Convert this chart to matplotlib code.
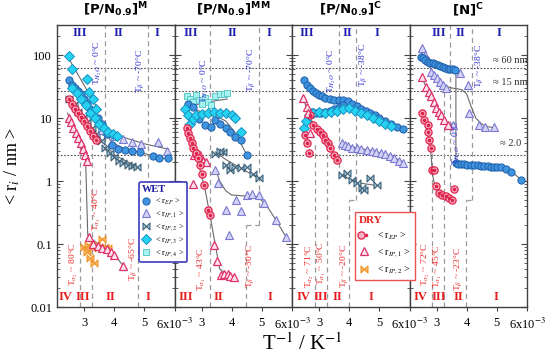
import numpy as np
import matplotlib
matplotlib.use('Agg')
import matplotlib.pyplot as plt
from matplotlib.path import Path
from matplotlib.lines import Line2D
from matplotlib.legend_handler import HandlerTuple

plt.rcParams['font.family'] = ['Liberation Serif', 'DejaVu Serif']
plt.rcParams['mathtext.fontset'] = 'stix'

# ---------------- data (x in 1e-3 K^-1, y in nm) ----------------
panel_titles = [r'[P/N$_{\mathbf{0.9}}$]$^{\mathbf{M}}$', r'[P/N$_{\mathbf{0.9}}$]$^{\mathbf{MM}}$',
                r'[P/N$_{\mathbf{0.9}}$]$^{\mathbf{C}}$', r'[N]$^{\mathbf{C}}$']
x_ticks = [3, 4, 5, 6]
x_ticklabels = ['3', '4', '5', r'6x10$^{-3}$']
y_ticks = [0.01, 0.1, 1, 10, 100]
y_ticklabels = ['0.01', '0.1', '1', '10', '100']
h_levels = [62, 27, 2.6]

# Panel 1: [P/N0.9]M
m_wet_ep_x = [2.5, 2.6, 2.7, 2.8, 2.9, 3.0, 3.1, 3.2, 3.3, 3.45, 3.6, 3.75, 3.92, 4.13, 4.37, 4.59, 4.87, 5.27, 5.47, 5.77]
m_wet_ep_y = [40, 34, 30, 27, 24, 20, 17, 14, 12, 10, 8, 5.5, 3.7, 3.2, 3.1, 3.0, 2.9, 2.5, 2.3, 2.3]
m_wet_ip1_x = [3.6, 3.8, 4.0, 4.3, 4.6, 4.9, 5.45, 5.75]
m_wet_ip1_y = [6.5, 5.8, 5.2, 4.6, 4.2, 3.9, 4.1, 3.0]
m_wet_ip2_x = [2.5, 2.65, 2.8, 2.95, 3.1, 3.25, 3.4, 3.55, 3.7, 3.85, 4.0, 4.15, 4.3, 4.45, 4.6, 4.75]
m_wet_ip2_y = [20, 16, 12.5, 10, 8.5, 7, 5.5, 4.3, 3.4, 2.8, 2.4, 2.1, 1.9, 1.8, 1.75, 1.7]
m_wet_ip3_x = [2.5, 2.6, 3.1, 3.15, 3.3, 3.4, 2.6, 2.75, 2.9, 3.05, 3.2, 3.35, 3.5, 3.65, 3.8, 3.95, 4.1]
m_wet_ip3_y = [95, 60, 42, 26, 20, 14, 30, 25, 20, 16, 12, 10, 8, 7, 6, 5.5, 5.2]
m_wet_ip4_x = [3.55, 3.7, 3.85]
m_wet_ip4_y = [6.5, 6.0, 5.6]
m_dry_ep_x = [2.5, 2.6, 2.7, 2.8, 2.9, 3.0, 3.1, 3.2, 3.3, 3.4]
m_dry_ep_y = [20, 17, 14, 12, 10.5, 9, 7.5, 6.2, 5.2, 4.4]
m_dry_ip1_x = [2.5, 2.57, 2.64, 2.72, 2.8, 2.88, 2.95, 3.03, 3.1, 3.15, 3.3, 3.45, 3.6, 3.75, 3.88, 4.0, 4.3]
m_dry_ip1_y = [10, 8.5, 7, 5.8, 4.8, 4.0, 3.2, 2.6, 2.1, 0.13, 0.1, 0.092, 0.088, 0.082, 0.075, 0.067, 0.045]
m_dry_ip2_x = [3.0, 3.08, 3.12, 3.2, 3.25, 3.33, 3.4, 3.5, 3.6, 3.7, 3.8]
m_dry_ip2_y = [0.09, 0.075, 0.095, 0.06, 0.085, 0.05, 0.1, 0.09, 0.12, 0.09, 0.085]
m_fits = [
    ([2.45, 2.7, 3.0, 3.3, 3.6, 3.9, 4.3, 4.8, 5.3, 5.8], [42, 30, 20, 12, 7, 4.2, 3.3, 2.9, 2.5, 2.2]),
    ([2.45, 3.45], [95, 14]),
    ([3.5, 4.0, 5.0, 5.8], [8, 5.5, 3.9, 3.2]),
    ([2.45, 3.0, 3.5, 4.0, 4.75], [22, 10, 5, 2.6, 1.7]),
    ([2.45, 3.45], [22, 4]),
    ([2.45, 3.05, 3.12, 3.15, 3.6, 4.0, 4.3], [12, 2.2, 0.14, 0.13, 0.09, 0.068, 0.045]),
]

# Panel 2: [P/N0.9]MM
mm_wet_ep_x = [2.55, 2.7, 2.9, 3.1, 3.3, 3.45, 3.6, 3.8, 3.95, 4.1, 4.3, 4.5]
mm_wet_ep_y = [17, 15, 9.5, 7.7, 7.3, 9.3, 8, 6.9, 6.1, 5, 4.5, 2.6]
mm_wet_ip1_x = [3.44, 3.56, 3.8, 3.91, 4.13, 4.3, 4.52, 4.68, 4.91, 5.08, 5.47, 5.8]
mm_wet_ip1_y = [1.5, 0.92, 0.35, 0.14, 0.5, 0.33, 0.6, 0.63, 0.6, 0.44, 0.24, 0.13]
mm_wet_ip2_x = [3.45, 3.6, 3.7, 3.8, 3.95, 4.1, 4.3, 4.5, 4.7, 4.9]
mm_wet_ip2_y = [2.7, 3.0, 2.9, 1.8, 1.5, 1.7, 1.6, 1.65, 1.3, 1.1]
mm_wet_ip3_x = [2.45, 2.55, 2.6, 2.7, 2.8, 3.0, 3.2, 3.4, 3.6, 3.8, 4.0, 4.1, 4.3]
mm_wet_ip3_y = [14, 11, 8, 9.5, 11, 11.5, 12, 12.5, 12, 12, 11, 10, 6]
mm_wet_ip4_x = [2.5, 2.6, 2.7, 2.8, 2.9, 3.0, 3.1, 3.2, 3.3, 3.45, 3.6, 3.75, 3.85]
mm_wet_ip4_y = [22, 20, 18, 23, 19, 17, 21, 18, 16, 22, 24, 24, 25]
mm_dry_ep_x = [2.5, 2.55, 2.6, 2.67, 2.73, 2.8, 2.87, 2.93, 3.0, 3.08, 3.2, 3.27]
mm_dry_ep_y = [7, 5.8, 4.8, 4, 3.3, 2.8, 2.3, 1.8, 1.3, 0.86, 0.35, 0.29]
mm_dry_ip1_x = [2.7, 2.76, 2.85, 2.95, 3.05, 3.15, 3.41, 3.52, 3.63, 3.75, 3.86, 3.95, 4.08]
mm_dry_ip1_y = [0.9, 2.6, 2.8, 2.6, 2.1, 2.0, 0.098, 0.053, 0.032, 0.034, 0.033, 0.031, 0.03]
mm_fits = [
    ([2.5, 2.9, 3.3, 3.6, 3.8, 4.1, 4.5], [17, 13, 11, 10, 9, 6, 2.6]),
    ([2.45, 3.0, 3.5, 3.85], [15, 17, 19, 20]),
    ([3.45, 3.6, 3.8, 4.0, 4.4, 4.8, 5.1, 5.4, 5.8], [1.6, 1.0, 0.7, 0.6, 0.58, 0.57, 0.45, 0.27, 0.13]),
    ([3.45, 3.8, 4.3, 4.9], [2.9, 2.2, 1.6, 1.1]),
    ([2.45, 2.8, 3.1, 3.3, 3.45, 3.6, 3.9, 4.1], [8, 2.8, 0.8, 0.25, 0.1, 0.04, 0.032, 0.03]),
]

# Panel 3: [P/N0.9]C
c_wet_ep_x = [2.5, 2.6, 2.7, 2.8, 2.9, 3.0, 3.1, 3.2, 3.35, 3.5, 3.65, 3.8, 3.95, 4.1, 4.25, 4.4, 4.55, 4.7,
              4.85, 5.0, 5.2, 5.4, 5.6, 5.8, 2.75, 2.9, 3.05, 3.2, 3.35, 3.5, 3.65, 3.8]
c_wet_ep_y = [40, 34, 30, 27, 25, 23, 22, 21, 20, 19.5, 19, 19, 18.5, 17, 15.5, 14, 13, 12,
              11, 10, 9, 8, 7.3, 6.8, 12.5, 12, 12, 12.5, 13, 14, 15, 16]
c_wet_ip1_x = [3.75, 3.85, 3.95, 4.1, 4.25, 4.4, 4.6, 4.75, 4.9, 5.05, 5.2, 5.35, 5.5, 5.65, 5.8]
c_wet_ip1_y = [4.0, 3.8, 3.6, 3.4, 3.3, 3.2, 3.1, 3.0, 2.9, 2.8, 2.7, 2.5, 2.3, 2.1, 1.9]
c_wet_ip2_x = [3.76, 3.92, 4.09, 4.26, 4.42, 4.5, 4.7, 4.92]
c_wet_ip2_y = [1.25, 1.33, 1.03, 0.93, 0.77, 0.72, 1.1, 0.86]
c_wet_ip3_x = [2.5, 2.58, 2.65, 2.8, 3.0, 3.2, 3.4, 3.6, 3.8, 4.0, 4.2, 4.4, 4.6, 4.8, 5.0, 5.2, 5.4]
c_wet_ip3_y = [7, 9, 11, 12, 12.5, 12, 12.5, 13, 14, 14.5, 13, 12, 11, 10, 9, 8, 7.5]
c_dry_ep_x = [2.53, 2.6, 2.65, 2.7, 2.81, 2.92, 3.03, 3.14, 3.2, 3.31, 3.37, 3.48, 3.59]
c_dry_ep_y = [5.4, 4.0, 2.75, 11.2, 7.7, 6.8, 6.1, 5.4, 4.5, 4.0, 3.3, 2.6, 2.15]
c_dry_ip1_x = [2.48, 2.6, 2.64, 2.7]
c_dry_ip1_y = [20.5, 15, 12, 5.7]
c_fits = [
    ([2.45, 2.8, 3.2, 3.6, 4.0, 4.4, 4.8, 5.2, 5.8], [42, 27, 21, 19, 18, 14, 11, 9, 6.8]),
    ([2.5, 2.8, 3.3, 3.8, 4.2, 4.8, 5.4], [7, 12, 12.5, 14.5, 13, 10, 7.5]),
    ([3.7, 4.2, 4.8, 5.4, 5.85], [4.0, 3.4, 3.0, 2.5, 1.9]),
    ([3.7, 4.2, 4.9], [1.3, 0.95, 0.85]),
    ([2.45, 2.7, 3.0, 3.3, 3.6], [22, 10, 6, 4, 2.1]),
]

# Panel 4: [N]C
n_wet_ep_x = [2.48, 2.55, 2.62, 2.7, 2.78, 2.87, 2.95, 3.03, 3.12, 3.2, 3.28, 3.37, 3.45, 3.53, 3.62,
              3.63, 3.72, 3.8, 3.9, 4.02, 4.13, 4.24, 4.36, 4.47, 4.58, 4.69, 4.8, 4.91, 5.02, 5.13, 5.3, 5.47, 5.8]
n_wet_ep_y = [94, 90, 84, 78, 76, 74, 71, 69, 67, 65, 63, 61, 60, 60, 58,
              1.9, 1.88, 1.86, 1.83, 1.8, 1.8, 1.8, 1.77, 1.75, 1.74, 1.72, 1.7, 1.67, 1.67, 1.67, 1.55, 1.4, 1.05]
n_wet_ip1_x = [2.53, 2.6, 2.7, 2.8, 2.9, 3.0, 3.1, 3.2, 3.3, 3.53, 3.76, 4.03, 4.09, 4.42, 4.6, 4.92]
n_wet_ip1_y = [128, 100, 83, 54, 48, 43, 38, 34, 30, 7.7, 51, 33.5, 11.9, 7.7, 7.1, 7.3]
n_dry_ep_x = [2.53, 2.59, 2.7, 2.7, 2.76, 2.81, 2.85, 2.91, 2.97, 3.08, 3.19, 3.3, 3.41, 3.52, 3.58]
n_dry_ep_y = [11.9, 9.3, 7.7, 6.1, 4.5, 3.3, 1.5, 1.5, 0.83, 0.64, 0.6, 0.57, 0.53, 0.5, 0.76]
n_dry_ip1_x = [2.53, 2.64, 2.76, 2.81, 2.92, 2.98, 3.09, 3.14, 3.26, 3.37]
n_dry_ip1_y = [45, 31, 26, 22, 18, 14.3, 12.6, 11.2, 9.3, 7.7]
n_fits = [
    ([2.45, 2.8, 3.2, 3.62, 3.64, 3.64, 4.0, 4.6, 5.13, 5.5, 5.85], [96, 75, 65, 58, 58, 1.9, 1.8, 1.73, 1.67, 1.4, 1.0]),
    ([2.5, 2.7, 2.9, 3.1, 3.3, 3.5, 3.7, 3.85, 4.0, 4.15, 4.3, 4.5, 4.7, 4.9], [110, 75, 50, 38, 32, 30, 29, 28, 24, 15, 10, 8, 7.3, 7]),
    ([2.5, 2.8, 3.1, 3.4], [45, 22, 12, 7.5]),
    ([2.5, 2.7, 2.82, 2.86, 2.95, 3.1, 3.5], [13, 6, 2.5, 1.3, 0.8, 0.62, 0.5]),
]

# ---------------- styles ----------------
bowtie = Path([(-1, -1), (-1, 1), (1, -1), (1, 1), (-1, -1)],
              [Path.MOVETO, Path.LINETO, Path.LINETO, Path.LINETO, Path.CLOSEPOLY])
st = {
    'wet_ep': dict(marker='o', ms=5.2, mfc='#3f94e0', mec='#1f5faa', mew=0.7),
    'wet_ip1': dict(marker='^', ms=5.5, mfc='#d4d4f6', mec='#7a78d0', mew=0.8),
    'wet_ip2': dict(marker=bowtie, ms=5.0, mfc='#a8c8d8', mec='#3c6078', mew=0.8),
    'wet_ip3': dict(marker='D', ms=5.0, mfc='#25d2f2', mec='#1890c0', mew=0.7),
    'wet_ip4': dict(marker='s', ms=5.0, mfc='#a6f2ee', mec='#5cc8c8', mew=0.7),
    'dry_ep': dict(marker='o', ms=5.2, mfc='#f7b3c2', mec='#e0234c', mew=0.9),
    'dry_ip1': dict(marker='^', ms=5.5, mfc='#fbe4ec', mec='#e0306a', mew=0.9),
    'dry_ip2': dict(marker=bowtie, ms=5.0, mfc='#f8c070', mec='#f09020', mew=0.8),
}

def draw_series(ax, key, x, y):
    ax.plot(x, y, ls='none', zorder=4, **st[key])
    if key == 'dry_ep':
        ax.plot(x, y, ls='none', marker='o', ms=1.6, color='#e0234c', zorder=5)

def draw_fits(ax, fits):
    for fx, fy in fits:
        ax.plot(fx, fy, color='#6a6a6a', lw=0.8, zorder=3)

fig = plt.figure(figsize=(5.54, 3.59), dpi=100)
L0, W, B, H = 57 / 554, 117.5 / 554, 52 / 359, 282 / 359
axes = [fig.add_axes([L0 + i * W, B, W, H]) for i in range(4)]

BLUE_T = '#2a2ad0'
RED_T = '#f02424'
ROM_B = '#1c1cb0'
ROM_R = '#e81c1c'
DASH = '#9a9a9a'

for i, ax in enumerate(axes):
    ax.set_yscale('log')
    ax.set_xlim(2.1, 6.0)
    ax.set_ylim(0.01, 300)
    ax.set_xticks(x_ticks)
    ax.set_xticklabels(x_ticklabels, fontsize=9)
    ax.set_yticks(y_ticks)
    ax.yaxis.set_minor_locator(matplotlib.ticker.LogLocator(base=10, subs=np.arange(2, 10)))
    if i == 0:
        ax.set_yticklabels(y_ticklabels, fontsize=9)
    else:
        ax.set_yticklabels([])
    ax.yaxis.set_minor_formatter(matplotlib.ticker.NullFormatter())
    ax.tick_params(axis='y', which='both', direction='in', left=True, right=True, color='#444')
    ax.tick_params(axis='y', which='major', length=4)
    ax.tick_params(axis='y', which='minor', length=2)
    ax.tick_params(axis='x', direction='out', length=3, pad=4, color='#444')
    for sp in ax.spines.values():
        sp.set_color('#404040')
        sp.set_linewidth(1.0)
    for h in h_levels:
        ax.axhline(h, color='#505050', ls=(0, (1.5, 1.5)), lw=0.8, zorder=1)
    ax.text(0.5, 1.02, panel_titles[i], transform=ax.transAxes, ha='center', va='bottom',
            fontsize=9.5, fontweight='bold', fontfamily='DejaVu Sans', math_fontfamily='dejavusans')

def vline(ax, x, y0, y1):
    ax.plot([x, x], [y0, y1], color=DASH, ls=(0, (4, 3)), lw=0.9, zorder=1)

def hcon(ax, x0, x1, y):
    ax.plot([x0, x1], [y, y], color=DASH, ls=(0, (4, 3)), lw=0.9, zorder=1)

def rtext(ax, x, y, s, c, fs=6.8):
    ax.text(x, y, s, rotation=90, ha='center', va='center', fontsize=fs, color=c, zorder=6)

def roman(ax, items, y, c):
    for x, s in items:
        ax.text(x, y, s, ha='center', va='center', fontsize=9, fontweight='bold', color=c, zorder=6)

# ---- Panel 1
ax = axes[0]
vline(ax, 3.7, 0.09, 300); vline(ax, 5.12, 0.09, 300)
vline(ax, 2.87, 0.01, 5); vline(ax, 3.25, 0.01, 5); vline(ax, 4.79, 0.01, 0.09); hcon(ax, 4.79, 5.12, 0.09)
draw_fits(ax, m_fits)
draw_series(ax, 'wet_ip4', m_wet_ip4_x, m_wet_ip4_y)
draw_series(ax, 'wet_ip2', m_wet_ip2_x, m_wet_ip2_y)
draw_series(ax, 'wet_ip1', m_wet_ip1_x, m_wet_ip1_y)
draw_series(ax, 'dry_ep', m_dry_ep_x, m_dry_ep_y)
draw_series(ax, 'wet_ep', m_wet_ep_x, m_wet_ep_y)
draw_series(ax, 'wet_ip3', m_wet_ip3_x, m_wet_ip3_y)
draw_series(ax, 'dry_ip2', m_dry_ip2_x, m_dry_ip2_y)
draw_series(ax, 'dry_ip1', m_dry_ip1_x, m_dry_ip1_y)
rtext(ax, 3.47, 75, r'T$_{H_2O}$ ~ 0°C', BLUE_T)
rtext(ax, 4.87, 56, r'T$_{\beta}$ ~ -70°C', BLUE_T)
rtext(ax, 2.68, 0.047, r'T$_{\alpha_2}$ ~ 80°C', RED_T)
rtext(ax, 3.42, 0.36, r'T$_{\alpha_1}$ ~ 40°C', RED_T)
rtext(ax, 4.62, 0.058, r'T$_{\beta}$ ~ -65°C', RED_T)
roman(ax, [(2.87, 'III'), (4.13, 'II'), (5.43, 'I')], 220, ROM_B)
roman(ax, [(2.37, 'IV'), (2.97, 'III'), (3.87, 'II'), (5.13, 'I')], 0.0145, ROM_R)

# ---- Panel 2
ax = axes[1]
vline(ax, 3.28, 0.01, 300); vline(ax, 4.9, 0.2, 300)
vline(ax, 4.47, 0.01, 0.2); hcon(ax, 4.47, 4.9, 0.2)
draw_fits(ax, mm_fits)
draw_series(ax, 'wet_ip4', mm_wet_ip4_x, mm_wet_ip4_y)
draw_series(ax, 'wet_ip2', mm_wet_ip2_x, mm_wet_ip2_y)
draw_series(ax, 'wet_ip1', mm_wet_ip1_x, mm_wet_ip1_y)
draw_series(ax, 'wet_ep', mm_wet_ep_x, mm_wet_ep_y)
draw_series(ax, 'wet_ip3', mm_wet_ip3_x, mm_wet_ip3_y)
draw_series(ax, 'dry_ip1', mm_dry_ip1_x, mm_dry_ip1_y)
draw_series(ax, 'dry_ep', mm_dry_ep_x, mm_dry_ep_y)
rtext(ax, 3.12, 40, r'T$_{H_2O}$ ~ 0°C', BLUE_T)
rtext(ax, 4.63, 58, r'T$_{\beta}$ ~ -70°C', BLUE_T)
rtext(ax, 3.0, 0.04, r'T$_{\alpha_1}$ ~ 43°C', RED_T)
rtext(ax, 4.62, 0.045, r'T$_{\beta}$ ~ -50°C', RED_T)
roman(ax, [(2.65, 'III'), (4.03, 'II'), (5.25, 'I')], 220, ROM_B)
roman(ax, [(2.49, 'III'), (3.55, 'II'), (5.28, 'I')], 0.0145, ROM_R)

# ---- Panel 3
ax = axes[2]
vline(ax, 3.65, 1.2, 300); vline(ax, 4.22, 0.5, 300)
vline(ax, 2.86, 0.01, 4); vline(ax, 3.26, 0.01, 4); vline(ax, 3.99, 0.01, 0.5); hcon(ax, 3.99, 4.22, 0.5)
draw_fits(ax, c_fits)
draw_series(ax, 'wet_ip2', c_wet_ip2_x, c_wet_ip2_y)
draw_series(ax, 'wet_ip1', c_wet_ip1_x, c_wet_ip1_y)
draw_series(ax, 'wet_ep', c_wet_ep_x, c_wet_ep_y)
draw_series(ax, 'wet_ip3', c_wet_ip3_x, c_wet_ip3_y)
draw_series(ax, 'dry_ep', c_dry_ep_x, c_dry_ep_y)
draw_series(ax, 'dry_ip1', c_dry_ip1_x, c_dry_ip1_y)
rtext(ax, 3.43, 56, r'T$_{H_2O}$ ~ 0°C', BLUE_T)
rtext(ax, 4.45, 70, r'T$_{\beta}$ ~ -38°C', BLUE_T)
rtext(ax, 2.7, 0.045, r'T$_{\alpha_2}$ ~ 71°C', RED_T)
rtext(ax, 3.09, 0.05, r'T$_{\alpha_1}$ ~ 50°C', RED_T)
rtext(ax, 3.82, 0.045, r'T$_{\beta}$ ~ -20°C', RED_T)
roman(ax, [(2.6, 'III'), (3.94, 'II'), (4.93, 'I')], 220, ROM_B)
roman(ax, [(2.47, 'IV'), (3.06, 'III'), (3.6, 'II'), (4.73, 'I')], 0.0145, ROM_R)

# ---- Panel 4
ax = axes[3]
vline(ax, 3.45, 0.8, 300); vline(ax, 4.16, 0.5, 300)
vline(ax, 2.85, 0.01, 5); vline(ax, 3.24, 0.01, 30); vline(ax, 3.98, 0.01, 0.5); hcon(ax, 3.98, 4.16, 0.5)
draw_fits(ax, n_fits)
draw_series(ax, 'wet_ip1', n_wet_ip1_x, n_wet_ip1_y)
draw_series(ax, 'wet_ep', n_wet_ep_x, n_wet_ep_y)
draw_series(ax, 'dry_ip1', n_dry_ip1_x, n_dry_ip1_y)
draw_series(ax, 'dry_ep', n_dry_ep_x, n_dry_ep_y)
rtext(ax, 3.68, 4.0, r'T$_{H_2O}$ ~ 0°C', BLUE_T)
rtext(ax, 4.41, 66, r'T$_{\beta}$ ~ -38°C', BLUE_T)
rtext(ax, 2.65, 0.047, r'T$_{\alpha_2}$ ~ 72°C', RED_T)
rtext(ax, 3.04, 0.045, r'T$_{\alpha_1}$ ~ 45°C', RED_T)
rtext(ax, 3.72, 0.04, r'T$_{\beta}$ ~ -23°C', RED_T)
roman(ax, [(3.06, 'III'), (3.79, 'II'), (5.06, 'I')], 220, ROM_B)
roman(ax, [(2.48, 'IV'), (3.08, 'III'), (3.72, 'II'), (4.97, 'I')], 0.0145, ROM_R)
for yv, s in [(82, '≈ 60 nm'), (36, '≈ 15 nm'), (3.9, '≈ 2.0')]:
    ax.text(5.45, yv, s, ha='center', va='center', fontsize=7.5, color='#303030', zorder=6)

# ---- axis labels
fig.text(0.022, B + H / 2, r'< r$_i$ / nm >', rotation=90, ha='center', va='center', fontsize=13)
fig.text(0.545, 0.042, r'T$^{-1}$ / K$^{-1}$', ha='center', va='center', fontsize=15)

# ---- legends
def h(key):
    return Line2D([], [], ls='none', **st[key])

dry_ep_h = (h('dry_ep'), Line2D([], [], ls='none', marker='o', ms=1.6, color='#e0234c'))
wet_leg = fig.legend([h('wet_ep'), h('wet_ip1'), h('wet_ip2'), h('wet_ip3'), h('wet_ip4')],
                     [r'< r$_{EP}$ >', r'< r$_{IP,1}$ >', r'< r$_{IP,2}$ >', r'< r$_{IP,3}$ >', r'< r$_{IP,4}$ >'],
                     loc='upper left', bbox_to_anchor=(139 / 554, 1 - 182 / 359), fontsize=6.0,
                     title='WET', alignment='left', frameon=True, fancybox=True,
                     handlelength=0.9, handletextpad=0.7, labelspacing=0.3, borderpad=0.35,
                     borderaxespad=0.0, edgecolor='#3b3bc0', framealpha=1)
wet_leg.get_title().set_color('#1a1aa0')
wet_leg.get_title().set_fontweight('bold')
wet_leg.get_title().set_fontsize(7.5)
wet_leg.get_frame().set_linewidth(1.2)

dry_leg = fig.legend([dry_ep_h, h('dry_ip1'), h('dry_ip2')],
                     [r'< r$_{EP}$ >', r'< r$_{IP,1}$ >', r'< r$_{IP,2}$ >'],
                     handler_map={tuple: HandlerTuple(ndivide=None, pad=0)},
                     loc='upper left', bbox_to_anchor=(355 / 554, 1 - 212 / 359), fontsize=7,
                     title='DRY', alignment='left', frameon=True, fancybox=False,
                     handlelength=1.0, handletextpad=0.9, labelspacing=0.45, borderpad=0.4,
                     borderaxespad=0.0, edgecolor='#f05050', framealpha=1)
dry_leg.get_title().set_color('#e82020')
dry_leg.get_title().set_fontweight('bold')
dry_leg.get_title().set_fontsize(8)
dry_leg.get_frame().set_linewidth(1.0)

fig.savefig('out.png', dpi=100)
